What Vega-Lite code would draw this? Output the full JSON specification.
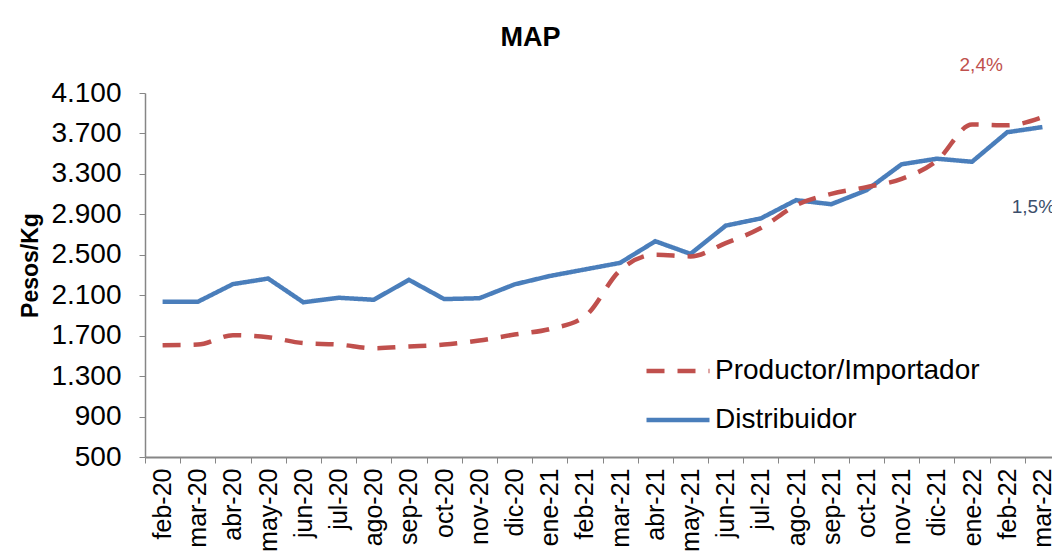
{
  "$schema": "https://vega.github.io/schema/vega-lite/v6.json",
  "autosize": {"type": "none"},
  "width": 915,
  "height": 364,
  "padding": {"left": 145, "top": 93, "right": -8, "bottom": 103},
  "background": "white",
  "config": {
    "font": "Liberation Sans",
    "view": {"stroke": null},
    "axis": {"grid": false, "domainColor": "#868686", "tickColor": "#868686", "labelColor": "#000000", "titleColor": "#000000", "labelFont": "Liberation Sans", "titleFont": "Liberation Sans"}
  },
  "title": {"text": "MAP", "font": "Liberation Sans", "fontSize": 27, "fontWeight": "bold", "color": "#000000", "dx": -72, "offset": 4, "anchor": "middle"},
  "datasets": {
    "series": [
      {"mes": "feb-20", "serie": "Productor/Importador", "valor": 1606},
      {"mes": "mar-20", "serie": "Productor/Importador", "valor": 1612},
      {"mes": "abr-20", "serie": "Productor/Importador", "valor": 1705},
      {"mes": "may-20", "serie": "Productor/Importador", "valor": 1685},
      {"mes": "jun-20", "serie": "Productor/Importador", "valor": 1626},
      {"mes": "jul-20", "serie": "Productor/Importador", "valor": 1612},
      {"mes": "ago-20", "serie": "Productor/Importador", "valor": 1576},
      {"mes": "sep-20", "serie": "Productor/Importador", "valor": 1593},
      {"mes": "oct-20", "serie": "Productor/Importador", "valor": 1612},
      {"mes": "nov-20", "serie": "Productor/Importador", "valor": 1652},
      {"mes": "dic-20", "serie": "Productor/Importador", "valor": 1711},
      {"mes": "ene-21", "serie": "Productor/Importador", "valor": 1765},
      {"mes": "feb-21", "serie": "Productor/Importador", "valor": 1891},
      {"mes": "mar-21", "serie": "Productor/Importador", "valor": 2346},
      {"mes": "abr-21", "serie": "Productor/Importador", "valor": 2500},
      {"mes": "may-21", "serie": "Productor/Importador", "valor": 2484},
      {"mes": "jun-21", "serie": "Productor/Importador", "valor": 2616},
      {"mes": "jul-21", "serie": "Productor/Importador", "valor": 2764},
      {"mes": "ago-21", "serie": "Productor/Importador", "valor": 2990},
      {"mes": "sep-21", "serie": "Productor/Importador", "valor": 3103},
      {"mes": "oct-21", "serie": "Productor/Importador", "valor": 3169},
      {"mes": "nov-21", "serie": "Productor/Importador", "valor": 3250},
      {"mes": "dic-21", "serie": "Productor/Importador", "valor": 3430},
      {"mes": "ene-22", "serie": "Productor/Importador", "valor": 3789},
      {"mes": "feb-22", "serie": "Productor/Importador", "valor": 3780},
      {"mes": "mar-22", "serie": "Productor/Importador", "valor": 3860},
      {"mes": "feb-20", "serie": "Distribuidor", "valor": 2035},
      {"mes": "mar-20", "serie": "Distribuidor", "valor": 2035},
      {"mes": "abr-20", "serie": "Distribuidor", "valor": 2210},
      {"mes": "may-20", "serie": "Distribuidor", "valor": 2265},
      {"mes": "jun-20", "serie": "Distribuidor", "valor": 2030},
      {"mes": "jul-20", "serie": "Distribuidor", "valor": 2075},
      {"mes": "ago-20", "serie": "Distribuidor", "valor": 2055},
      {"mes": "sep-20", "serie": "Distribuidor", "valor": 2252},
      {"mes": "oct-20", "serie": "Distribuidor", "valor": 2062},
      {"mes": "nov-20", "serie": "Distribuidor", "valor": 2070},
      {"mes": "dic-20", "serie": "Distribuidor", "valor": 2207},
      {"mes": "ene-21", "serie": "Distribuidor", "valor": 2290},
      {"mes": "feb-21", "serie": "Distribuidor", "valor": 2355},
      {"mes": "mar-21", "serie": "Distribuidor", "valor": 2420},
      {"mes": "abr-21", "serie": "Distribuidor", "valor": 2634},
      {"mes": "may-21", "serie": "Distribuidor", "valor": 2509},
      {"mes": "jun-21", "serie": "Distribuidor", "valor": 2788},
      {"mes": "jul-21", "serie": "Distribuidor", "valor": 2860},
      {"mes": "ago-21", "serie": "Distribuidor", "valor": 3040},
      {"mes": "sep-21", "serie": "Distribuidor", "valor": 3000},
      {"mes": "oct-21", "serie": "Distribuidor", "valor": 3138},
      {"mes": "nov-21", "serie": "Distribuidor", "valor": 3395},
      {"mes": "dic-21", "serie": "Distribuidor", "valor": 3450},
      {"mes": "ene-22", "serie": "Distribuidor", "valor": 3420},
      {"mes": "feb-22", "serie": "Distribuidor", "valor": 3712},
      {"mes": "mar-22", "serie": "Distribuidor", "valor": 3763}
    ],
    "notas": [
      {"mes": "feb-22", "valor": 4377, "texto": "2,4%", "serie": "Productor/Importador"},
      {"mes": "mar-22", "valor": 2973, "texto": "1,5%", "serie": "Distribuidor"}
    ]
  },
  "encoding": {
    "x": {
      "field": "mes", "type": "ordinal", "sort": null,
      "scale": {"paddingInner": 0, "paddingOuter": 0},
      "axis": {"title": null, "labelAngle": -90, "labelAlign": "right", "labelBaseline": "middle", "labelFontSize": 25, "labelPadding": 5, "tickBand": "extent", "tickSize": 6, "domainWidth": 2, "tickWidth": 1}
    },
    "y": {
      "field": "valor", "type": "quantitative",
      "scale": {"domain": [500, 4100], "nice": false, "zero": false},
      "axis": {"title": "Pesos/Kg", "titleFontSize": 23, "titleFontWeight": "bold", "titlePadding": 8, "titleY": 172, "values": [500, 900, 1300, 1700, 2100, 2500, 2900, 3300, 3700, 4100], "labelExpr": "replace(format(datum.value, ','), ',', '.')", "labelFontSize": 28, "labelPadding": 18, "tickSize": 6, "domainWidth": 1.5}
    }
  },
  "layer": [
    {
      "data": {"name": "series"},
      "transform": [{"filter": "datum.serie == 'Distribuidor'"}],
      "mark": {"type": "line", "strokeWidth": 4.5, "interpolate": "linear"},
      "encoding": {
        "color": {"field": "serie", "type": "nominal", "scale": {"domain": ["Productor/Importador", "Distribuidor"], "range": ["#C0504D", "#4A7EBB"]}, "legend": {"title": null, "orient": "none", "legendX": 499, "legendY": 244, "symbolType": "stroke", "symbolSize": 3969, "symbolStrokeWidth": 4.5, "labelFontSize": 28, "labelLimit": 500, "labelColor": "#000000", "labelOffset": 3, "rowPadding": 1, "padding": 0}},
        "strokeDash": {"field": "serie", "type": "nominal", "scale": {"domain": ["Productor/Importador", "Distribuidor"], "range": [[18, 13], [1, 0]]}, "legend": {"title": null, "orient": "none", "legendX": 499, "legendY": 244, "symbolType": "stroke", "symbolSize": 3969, "symbolStrokeWidth": 4.5, "labelFontSize": 28, "labelLimit": 500, "labelColor": "#000000", "labelOffset": 3, "rowPadding": 1, "padding": 0}}
      }
    },
    {
      "data": {"name": "series"},
      "transform": [{"filter": "datum.serie == 'Productor/Importador'"}],
      "mark": {"type": "line", "strokeWidth": 4.5, "interpolate": "monotone"},
      "encoding": {
        "color": {"field": "serie", "type": "nominal"},
        "strokeDash": {"field": "serie", "type": "nominal"}
      }
    },
    {
      "data": {"name": "notas"},
      "transform": [{"filter": "datum.serie == 'Productor/Importador'"}],
      "mark": {"type": "text", "fontSize": 19, "color": "#C0504D", "dx": -26, "baseline": "middle", "align": "center"},
      "encoding": {"text": {"field": "texto"}}
    },
    {
      "data": {"name": "notas"},
      "transform": [{"filter": "datum.serie == 'Distribuidor'"}],
      "mark": {"type": "text", "fontSize": 19, "color": "#3B4E6B", "dx": -9, "baseline": "middle", "align": "center"},
      "encoding": {"text": {"field": "texto"}}
    }
  ]
}
